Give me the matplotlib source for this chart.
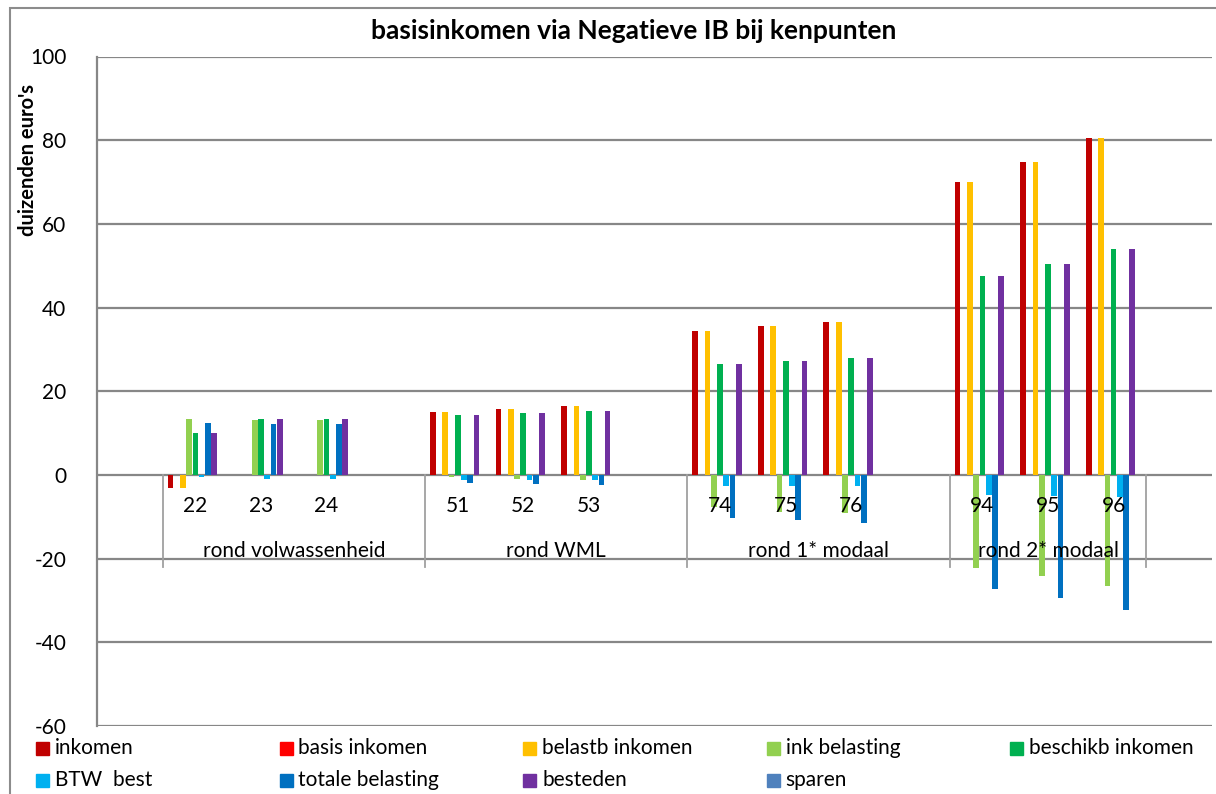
import matplotlib.pyplot as plt
from matplotlib.patches import Rectangle

plt.rcParams['font.family'] = ['Lato', 'DejaVu Sans']
plt.rcParams['axes.unicode_minus'] = False

# category slots: one empty slot at the start, a blank slot at the end of each group
slot_labels = ['', '22', '23', '24', '', '51', '52', '53', '', '74', '75', '76', '', '94', '95', '96', '']
groups = ['rond volwassenheid', 'rond WML', 'rond 1* modaal', 'rond 2* modaal']
group_bounds = [(1, 5), (5, 9), (9, 13), (13, 16)]

series = ['inkomen', 'basis inkomen', 'belastb inkomen', 'ink belasting', 'beschikb inkomen',
          'BTW  best', 'totale belasting', 'besteden', 'sparen']
colors = ['#C00000', '#FF0000', '#FFC000', '#92D050', '#00B050',
          '#00B0F0', '#0070C0', '#7030A0', '#4F81BD']

# values per series, for slots 22,23,24,51,52,53,74,75,76,94,95,96
inkomen = [-3.2, 0, 0, 15.0, 15.7, 16.4, 34.5, 35.5, 36.6, 69.9, 74.8, 80.6]
basis_inkomen = [0, 0, 0, 0, 0, 0, 0, 0, 0, 0, 0, 0]
belastb_inkomen = [-3.2, 0, 0, 15.0, 15.7, 16.4, 34.5, 35.5, 36.6, 69.9, 74.8, 80.6]
ink_belasting = [13.3, 13.2, 13.1, -0.6, -0.9, -1.1, -7.6, -8.8, -9.0, -22.3, -24.2, -26.6]
beschikb_inkomen = [10.1, 13.3, 13.3, 14.4, 14.8, 15.3, 26.6, 27.3, 27.9, 47.6, 50.4, 53.9]
btw_best = [-0.6, -1.0, -0.9, -1.2, -1.3, -1.3, -2.6, -2.6, -2.6, -4.9, -5.1, -5.3]
totale_belasting = [12.5, 12.2, 12.1, -1.9, -2.1, -2.5, -10.4, -10.8, -11.4, -27.3, -29.4, -32.3]
besteden = [10.1, 13.3, 13.3, 14.4, 14.8, 15.3, 26.6, 27.3, 27.9, 47.6, 50.4, 53.9]
sparen = [0, 0, 0, 0, 0, 0, 0, 0, 0, 0, 0, 0]

values = [inkomen, basis_inkomen, belastb_inkomen, ink_belasting, beschikb_inkomen,
          btw_best, totale_belasting, besteden, sparen]

W, H = 1216, 794
fig = plt.figure(figsize=(W / 100, H / 100), dpi=100)
ax = fig.add_axes([97 / W, 1 - 726 / H, (1212 - 97) / W, (726 - 56.5) / H])

filled = [i for i, lab in enumerate(slot_labels) if lab]
bw = 0.095
grid_c = '#878787'

for y in range(-60, 101, 20):
    ax.axhline(y, color=grid_c, lw=1.6, zorder=1)

for j, (vals, col) in enumerate(zip(values, colors)):
    xs = [i + 0.5 + (j - 4) * bw for i in filled]
    ax.bar(xs, vals, width=bw * 0.92, color=col, linewidth=0, zorder=3)

ax.set_xlim(0, len(slot_labels))
ax.set_ylim(-60, 100)
ax.set_xticks([])
ax.set_yticks(range(-60, 101, 20))
ax.tick_params(axis='y', length=0, labelsize=15, pad=22)
for s in ['top', 'right', 'bottom']:
    ax.spines[s].set_visible(False)
ax.spines['left'].set_color(grid_c)
ax.spines['left'].set_linewidth(1.6)

# multi-level category axis
for i, lab in enumerate(slot_labels):
    if lab:
        ax.text(i + 0.5, -7.4, lab, ha='center', va='center', fontsize=15, zorder=5)
for name, (a, b) in zip(groups, group_bounds):
    ax.text((a + b) / 2, -18.2, name, ha='center', va='center', fontsize=15, zorder=5)
for xb in [1, 5, 9, 13, 16]:
    ax.plot([xb, xb], [0, -22], color='#a0a0a0', lw=1.3, clip_on=False, zorder=2)

fig.text(634 / W, 1 - 31 / H, 'basisinkomen via Negatieve IB bij kenpunten',
         ha='center', va='center', fontsize=19, fontweight='bold')
fig.text(28 / W, 1 - 160 / H, "duizenden euro's", rotation=90,
         ha='center', va='center', fontsize=14.5, fontweight='bold')

# legend, five columns
for k, (name, col) in enumerate(zip(series, colors)):
    x0 = 36 + (k % 5) * 243.5
    yc = 748 + (k // 5) * 32
    fig.add_artist(Rectangle((x0 / W, 1 - (yc + 6.5) / H), 13 / W, 13 / H,
                             transform=fig.transFigure, color=col))
    fig.text((x0 + 19) / W, 1 - yc / H, name, ha='left', va='center', fontsize=15)

# chart border
fig.add_artist(Rectangle((10 / W, -0.05), 1.2, 1.05 - 8 / H, transform=fig.transFigure,
                         fill=False, edgecolor='#8c8c8c', lw=1.5))

fig.savefig('out.png', dpi=100)
